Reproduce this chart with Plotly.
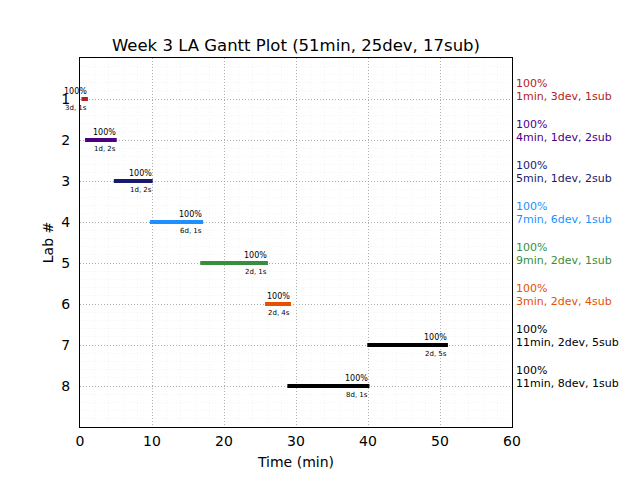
import plotly.graph_objects as go

labs = [1, 2, 3, 4, 5, 6, 7, 8]
starts = [0.2, 0.7, 4.7, 9.7, 16.7, 25.7, 39.9, 28.8]
ends = [1.1, 5.1, 10.1, 17.1, 26.1, 29.3, 51.1, 40.2]
colors = ["#b22222", "#4b0082", "#191970", "#1e90ff", "#388e3c", "#e65100", "#000000", "#000000"]
percents = ["100%", "100%", "100%", "100%", "100%", "100%", "100%", "100%"]
minutes = [1, 4, 5, 7, 9, 3, 11, 11]
devs = [3, 1, 1, 6, 2, 2, 2, 8]
subs = [1, 2, 2, 1, 1, 4, 5, 1]
title = "Week 3 LA Gantt Plot (51min, 25dev, 17sub)"

FONT = "DejaVu Sans"
fig = go.Figure()
annotations = []
for lab, s, e, c, p, m, d, sb in zip(labs, starts, ends, colors, percents, minutes, devs, subs):
    fig.add_trace(go.Scatter(x=[s, e], y=[lab, lab], mode="lines",
                             line=dict(color=c, width=4), showlegend=False, hoverinfo="skip"))
    annotations.append(dict(x=e, y=lab - 0.06, xref="x", yref="y", text=p, showarrow=False,
                            xanchor="right", yanchor="bottom", borderpad=0,
                            font=dict(family=FONT, size=8, color="black")))
    annotations.append(dict(x=e, y=lab + 0.1, xref="x", yref="y", text=f"{d}d, {sb}s", showarrow=False,
                            xanchor="right", yanchor="top", borderpad=0,
                            font=dict(family=FONT, size=7, color="black")))
    annotations.append(dict(x=1.006, y=lab - 0.37, xref="paper", yref="y", text=p, showarrow=False,
                            xanchor="left", yanchor="middle", borderpad=0,
                            font=dict(family=FONT, size=11, color=c)))
    annotations.append(dict(x=1.006, y=lab - 0.07, xref="paper", yref="y",
                            text=f"{m}min, {d}dev, {sb}sub", showarrow=False,
                            xanchor="left", yanchor="middle", borderpad=0,
                            font=dict(family=FONT, size=11, color=c)))

# page body has an 8px margin, so the figure is offset by (8, 8)
fig.update_layout(
    width=632, height=472,
    margin=dict(l=72, r=128, t=50, b=49),
    paper_bgcolor="white", plot_bgcolor="white",
    font=dict(family=FONT, size=14, color="black"),
    title=dict(text=title, x=0.5, xref="paper", xanchor="center",
               y=1 - 37 / 472, yref="container", yanchor="middle",
               font=dict(family=FONT, size=16.5, color="black")),
    annotations=annotations,
    xaxis=dict(range=[0, 60], tickvals=[0, 10, 20, 30, 40, 50, 60],
               showgrid=True, gridcolor="#b0b0b0", griddash="1px,2px", gridwidth=1,
               minor=dict(dtick=2, tick0=0, showgrid=True, gridcolor="#f4f4f4", gridwidth=1),
               showline=True, linecolor="black", linewidth=1, mirror=True,
               zeroline=False, ticks="outside", ticklen=1, tickcolor="white",
               title=dict(text="Time (min)", standoff=9, font=dict(family=FONT, size=14))),
    yaxis=dict(range=[9, 0], tickvals=labs,
               showgrid=True, gridcolor="#b0b0b0", griddash="1px,2px", gridwidth=1,
               minor=dict(dtick=0.2, tick0=0, showgrid=True, gridcolor="#f4f4f4", gridwidth=1),
               showline=True, linecolor="black", linewidth=1, mirror=True,
               zeroline=False, ticks="outside", ticklen=6, tickcolor="white",
               title=dict(text="Lab #", standoff=4, font=dict(family=FONT, size=14))),
)

fig.write_html("out.html")
